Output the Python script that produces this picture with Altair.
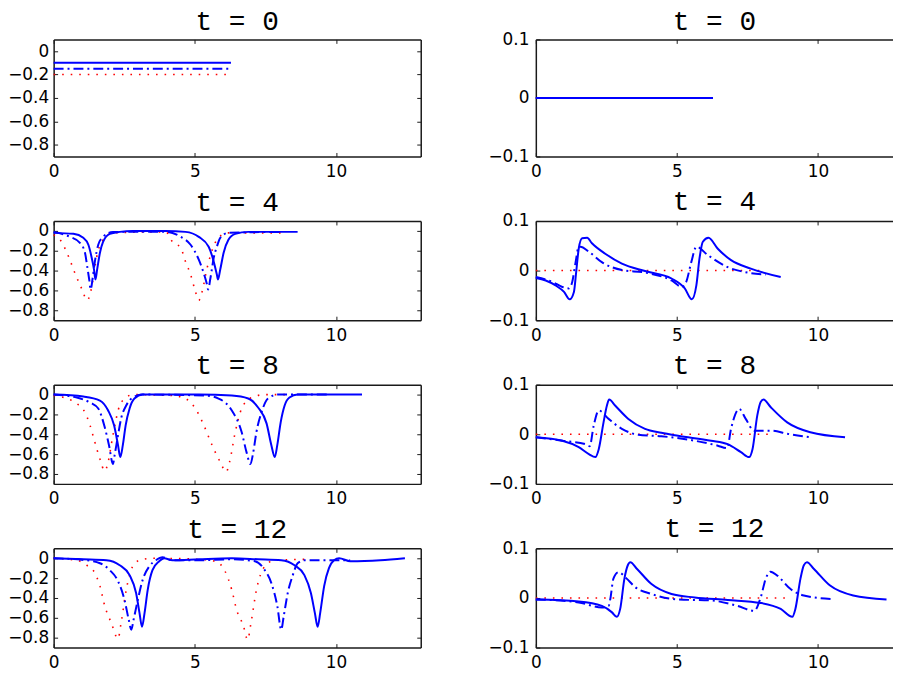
import altair as alt
import pandas as pd

BLUE = "#0000ff"
RED = "#ff0000"
AXIS_COLOR = "#1a1a1a"

titles = ["t = 0", "t = 4", "t = 8", "t = 12"]
x_ticks = [0, 5, 10]
left_y_ticks = [-0.8, -0.6, -0.4, -0.2, 0]
right_y_ticks = [-0.1, 0, 0.1]
left_y_domain = [-0.9, 0.1]
right_y_domain = [-0.1, 0.1]
left_x_domain = [0, 13]
right_x_domain = [0, 12.66]

# ---------------- t = 0 ----------------
L0_red_x = [0, 6.28]
L0_red_y = [-0.2, -0.2]
L0_dd_x = [0, 6.28]
L0_dd_y = [-0.15, -0.15]
L0_solid_x = [0, 6.28]
L0_solid_y = [-0.1, -0.1]
R0_red_x = [0, 6.28]
R0_red_y = [0, 0]
R0_dd_x = [0, 6.28]
R0_dd_y = [0, 0]
R0_solid_x = [0, 6.28]
R0_solid_y = [0, 0]

# ---------------- t = 4 ----------------
L4_red_x = [0, 0.23, 0.53, 0.76, 0.99, 1.19, 1.29, 1.40, 1.52, 1.75, 2.10, 3.97, 4.21, 4.50, 4.67, 4.85, 5.02, 5.14, 5.26, 5.43, 5.72, 5.96, 6.19, 8.10]
L4_red_y = [-0.04, -0.09, -0.26, -0.43, -0.58, -0.70, -0.64, -0.48, -0.27, -0.09, -0.02, -0.01, -0.11, -0.17, -0.31, -0.44, -0.61, -0.70, -0.61, -0.38, -0.12, -0.04, -0.02, -0.02]
L4_dd_x = [0, 0.58, 0.93, 1.11, 1.19, 1.26, 1.31, 1.38, 1.46, 1.58, 1.75, 2.10, 4.00, 4.50, 4.85, 5.14, 5.32, 5.43, 5.47, 5.55, 5.67, 5.78, 5.90, 6.19, 8.12]
L4_dd_y = [-0.01, -0.06, -0.12, -0.22, -0.36, -0.49, -0.59, -0.48, -0.31, -0.14, -0.06, -0.01, -0.01, -0.06, -0.14, -0.29, -0.43, -0.54, -0.59, -0.48, -0.27, -0.16, -0.07, -0.02, -0.01]
L4_solid_x = [0, 0.70, 1.05, 1.23, 1.34, 1.43, 1.48, 1.54, 1.64, 1.75, 1.99, 2.34, 2.80, 3.97, 4.67, 5.14, 5.49, 5.67, 5.78, 5.82, 5.90, 6.02, 6.19, 6.43, 6.89, 8.64]
L4_solid_y = [-0.02, -0.03, -0.07, -0.14, -0.26, -0.39, -0.49, -0.39, -0.22, -0.11, -0.03, -0.01, 0.0, 0.0, -0.01, -0.06, -0.16, -0.31, -0.44, -0.49, -0.39, -0.22, -0.09, -0.03, -0.01, -0.01]
R4_red_x = [0, 8.10]
R4_red_y = [0, 0]
R4_dd_x = [0, 0.59, 0.94, 1.17, 1.29, 1.41, 1.52, 1.58, 1.88, 2.34, 3.05, 3.87, 4.81, 5.18, 5.33, 5.51, 5.69, 6.10, 6.80, 7.50, 8.15]
R4_dd_y = [-0.013, -0.023, -0.033, -0.036, -0.023, 0.017, 0.048, 0.048, 0.038, 0.017, 0.001, -0.004, -0.020, -0.033, -0.023, 0.017, 0.048, 0.031, 0.007, -0.004, -0.008]
R4_solid_x = [0, 0.35, 0.70, 1.00, 1.20, 1.35, 1.43, 1.52, 1.64, 1.82, 1.99, 2.46, 3.05, 3.87, 4.81, 5.28, 5.53, 5.69, 5.80, 5.92, 6.12, 6.45, 6.92, 7.62, 8.68]
R4_solid_y = [-0.015, -0.020, -0.030, -0.043, -0.058, -0.043, -0.003, 0.044, 0.065, 0.066, 0.055, 0.034, 0.014, -0.001, -0.016, -0.036, -0.058, -0.030, 0.024, 0.058, 0.066, 0.044, 0.021, 0.004, -0.013]

# ---------------- t = 8 ----------------
L8_red_x = [0, 0.47, 0.82, 1.11, 1.29, 1.46, 1.64, 1.81, 1.93, 2.10, 2.34, 2.57, 2.80, 4.21, 4.67, 5.02, 5.32, 5.61, 5.90, 6.11, 6.23, 6.43, 6.66, 7.01, 7.48, 8.29]
L8_red_y = [-0.01, -0.04, -0.09, -0.18, -0.31, -0.48, -0.65, -0.77, -0.68, -0.41, -0.11, -0.03, 0.0, -0.01, -0.04, -0.14, -0.31, -0.51, -0.68, -0.78, -0.68, -0.38, -0.14, -0.03, 0.0, 0.0]
L8_dd_x = [0, 0.82, 1.29, 1.58, 1.81, 1.96, 2.10, 2.16, 2.28, 2.39, 2.57, 2.80, 3.15, 5.37, 5.84, 6.31, 6.66, 6.83, 6.97, 7.07, 7.18, 7.36, 7.59, 7.94, 9.74]
L8_dd_y = [0.0, -0.03, -0.08, -0.14, -0.33, -0.51, -0.70, -0.61, -0.41, -0.24, -0.11, -0.03, 0.0, -0.01, -0.04, -0.16, -0.38, -0.58, -0.70, -0.58, -0.38, -0.18, -0.04, 0.0, 0.0]
L8_solid_x = [0, 1.05, 1.64, 1.93, 2.14, 2.28, 2.36, 2.45, 2.55, 2.69, 2.86, 3.15, 3.97, 5.14, 6.31, 6.89, 7.24, 7.54, 7.71, 7.83, 7.92, 8.04, 8.18, 8.35, 8.64, 9.81, 10.92]
L8_solid_y = [0.0, -0.02, -0.06, -0.16, -0.31, -0.51, -0.63, -0.51, -0.31, -0.14, -0.04, 0.0, 0.0, 0.0, -0.01, -0.04, -0.13, -0.29, -0.51, -0.63, -0.51, -0.28, -0.11, -0.03, 0.0, 0.0, 0.0]
R8_red_x = [0, 8.45]
R8_red_y = [0, 0]
R8_dd_x = [0, 0.94, 1.76, 1.91, 2.05, 2.23, 2.58, 3.05, 3.63, 4.45, 5.63, 6.45, 6.78, 6.92, 7.21, 7.44, 7.74, 8.38, 8.91, 9.73]
R8_dd_y = [-0.006, -0.013, -0.020, -0.024, 0.017, 0.048, 0.031, 0.011, -0.001, -0.004, -0.013, -0.023, -0.028, 0.011, 0.051, 0.031, 0.007, 0.007, 0.001, -0.006]
R8_solid_x = [0, 0.94, 1.52, 1.88, 2.11, 2.23, 2.40, 2.52, 2.60, 2.81, 3.28, 3.87, 4.45, 5.04, 6.21, 6.80, 7.27, 7.56, 7.68, 7.85, 7.97, 8.07, 8.32, 8.91, 9.73, 10.96]
R8_solid_y = [-0.006, -0.013, -0.026, -0.040, -0.046, -0.030, 0.024, 0.058, 0.070, 0.058, 0.031, 0.011, 0.003, -0.003, -0.013, -0.020, -0.036, -0.046, -0.030, 0.038, 0.065, 0.070, 0.055, 0.024, 0.004, -0.006]

# ---------------- t = 12 ----------------
L12_red_x = [0, 0.82, 1.17, 1.46, 1.64, 1.81, 2.04, 2.28, 2.39, 2.57, 2.80, 3.04, 3.50, 5.14, 5.72, 6.07, 6.31, 6.48, 6.72, 6.87, 6.99, 7.18, 7.48, 7.83, 9.00]
L12_red_y = [0.0, -0.02, -0.07, -0.15, -0.28, -0.48, -0.65, -0.81, -0.65, -0.32, -0.08, -0.02, 0.0, -0.01, -0.03, -0.13, -0.32, -0.52, -0.68, -0.82, -0.65, -0.32, -0.08, -0.02, -0.01]
L12_dd_x = [0, 1.17, 1.64, 1.99, 2.28, 2.51, 2.66, 2.75, 2.83, 2.98, 3.15, 3.39, 3.62, 3.86, 4.21, 5.14, 6.31, 7.13, 7.48, 7.71, 7.92, 8.06, 8.15, 8.29, 8.47, 8.64, 8.88, 9.35, 10.50]
L12_dd_y = [0.0, -0.02, -0.05, -0.12, -0.23, -0.42, -0.62, -0.72, -0.62, -0.42, -0.22, -0.08, -0.02, 0.01, -0.02, -0.02, -0.01, -0.03, -0.12, -0.25, -0.48, -0.72, -0.58, -0.35, -0.17, -0.05, -0.02, -0.02, -0.02]
L12_solid_x = [0, 1.05, 1.87, 2.34, 2.69, 2.92, 3.04, 3.13, 3.22, 3.33, 3.50, 3.74, 3.91, 4.21, 5.14, 6.31, 7.24, 8.06, 8.53, 8.88, 9.11, 9.25, 9.35, 9.44, 9.58, 9.75, 9.93, 10.11, 10.51, 11.57, 12.44]
L12_solid_y = [0.0, -0.01, -0.02, -0.07, -0.17, -0.35, -0.55, -0.69, -0.55, -0.32, -0.12, -0.03, 0.0, -0.02, -0.01, 0.0, -0.01, -0.02, -0.07, -0.17, -0.35, -0.55, -0.69, -0.55, -0.28, -0.10, -0.02, 0.0, -0.03, -0.02, 0.0]
R12_red_x = [0, 9.04]
R12_red_y = [0, 0]
R12_dd_x = [0, 1.52, 2.34, 2.58, 2.64, 2.75, 2.93, 3.22, 3.52, 4.10, 5.04, 6.21, 7.15, 7.74, 7.97, 8.15, 8.32, 8.56, 9.03, 9.50, 10.49]
R12_dd_y = [-0.003, -0.009, -0.019, -0.016, -0.002, 0.039, 0.052, 0.039, 0.022, 0.008, -0.003, -0.005, -0.016, -0.026, 0.001, 0.039, 0.053, 0.045, 0.018, 0.005, -0.002]
R12_solid_x = [0, 1.52, 2.34, 2.70, 2.87, 2.99, 3.14, 3.26, 3.35, 3.58, 4.10, 4.81, 5.63, 6.80, 7.97, 8.68, 9.09, 9.20, 9.38, 9.50, 9.61, 9.85, 10.43, 11.25, 12.43]
R12_solid_y = [-0.003, -0.007, -0.016, -0.029, -0.038, -0.022, 0.039, 0.066, 0.072, 0.059, 0.028, 0.008, 0.001, -0.004, -0.010, -0.022, -0.038, -0.022, 0.039, 0.066, 0.072, 0.059, 0.025, 0.005, -0.003]

left_series = [
    (L0_red_x, L0_red_y, L0_dd_x, L0_dd_y, L0_solid_x, L0_solid_y),
    (L4_red_x, L4_red_y, L4_dd_x, L4_dd_y, L4_solid_x, L4_solid_y),
    (L8_red_x, L8_red_y, L8_dd_x, L8_dd_y, L8_solid_x, L8_solid_y),
    (L12_red_x, L12_red_y, L12_dd_x, L12_dd_y, L12_solid_x, L12_solid_y),
]
right_series = [
    (R0_red_x, R0_red_y, R0_dd_x, R0_dd_y, R0_solid_x, R0_solid_y),
    (R4_red_x, R4_red_y, R4_dd_x, R4_dd_y, R4_solid_x, R4_solid_y),
    (R8_red_x, R8_red_y, R8_dd_x, R8_dd_y, R8_solid_x, R8_solid_y),
    (R12_red_x, R12_red_y, R12_dd_x, R12_dd_y, R12_solid_x, R12_solid_y),
]
row_heights = [118, 100, 100, 100]
left_title_offsets = [-19, -18, -18, -18]
right_title_offsets = [-28, -26, -26, -26]


def make_axis(orient, values, labels, pad):
    kw = dict(orient=orient, values=values, grid=False, title=None,
              domainColor=AXIS_COLOR, domainWidth=1.5,
              tickColor=AXIS_COLOR, tickWidth=1, tickSize={"expr": "-4"},
              labels=labels)
    if labels:
        kw.update(format="~r", labelFont="DejaVu Sans", labelFontSize=17,
                  labelColor="black", labelPadding=pad, labelFlush=False,
                  labelOverlap=False)
    return alt.Axis(**kw)


def panel(title, series, xdom, ydom, yticks, width, height, right_axis, ypad, toff):
    red_x, red_y, dd_x, dd_y, s_x, s_y = series
    xsc = alt.Scale(domain=xdom, nice=False, zero=False)
    ysc = alt.Scale(domain=ydom, nice=False, zero=False)

    red = alt.Chart(pd.DataFrame({"x": red_x, "y": red_y})).mark_line(
        color=RED, strokeWidth=1.6, strokeDash=[1.6, 7], interpolate="monotone"
    ).encode(
        x=alt.X("x:Q", scale=xsc, axis=make_axis("bottom", x_ticks, True, 11)),
        y=alt.Y("y:Q", scale=ysc, axis=make_axis("left", yticks, True, ypad)),
    )
    dd = alt.Chart(pd.DataFrame({"x": dd_x, "y": dd_y})).mark_line(
        color=BLUE, strokeWidth=2, strokeDash=[10, 4, 2, 4], interpolate="monotone"
    ).encode(
        x=alt.X("x:Q", scale=xsc, axis=None),
        y=alt.Y("y:Q", scale=ysc, axis=None),
    )
    solid = alt.Chart(pd.DataFrame({"x": s_x, "y": s_y})).mark_line(
        color=BLUE, strokeWidth=2, interpolate="monotone"
    ).encode(
        x=alt.X("x:Q", scale=xsc, axis=None),
        y=alt.Y("y:Q", scale=ysc, axis=None),
    )
    frame_y_axis = make_axis("right", yticks, False, 0) if right_axis else None
    frame = alt.Chart(pd.DataFrame({"x": s_x, "y": s_y})).mark_line(
        strokeOpacity=0
    ).encode(
        x=alt.X("x:Q", scale=xsc, axis=make_axis("top", x_ticks, False, 0)),
        y=alt.Y("y:Q", scale=ysc, axis=frame_y_axis),
    )
    return alt.layer(red, dd, solid, frame).resolve_axis(
        x="independent", y="independent"
    ).properties(
        width=width, height=height,
        title=alt.TitleParams(text=title, font="Liberation Mono", fontSize=28,
                              fontWeight="normal", color="black", anchor="middle",
                              frame="group", baseline="alphabetic", offset=toff),
    )


panels = []
for i in range(4):
    panels.append(panel(titles[i], left_series[i], left_x_domain, left_y_domain,
                        left_y_ticks, 370, row_heights[i], True, 9,
                        left_title_offsets[i]))
    panels.append(panel(titles[i], right_series[i], right_x_domain, right_y_domain,
                        right_y_ticks, 360, row_heights[i], False, 11,
                        right_title_offsets[i]))

chart = alt.concat(
    *panels, columns=2, spacing={"row": 65, "column": 116}, bounds="flush"
).properties(
    autosize=alt.AutoSizeParams(type="none"),
    padding={"left": 46, "top": 29, "right": 846, "bottom": 640},
    background="white",
).configure_view(strokeWidth=0)

chart.save("out.html", embed_options={"renderer": "svg", "actions": False})
